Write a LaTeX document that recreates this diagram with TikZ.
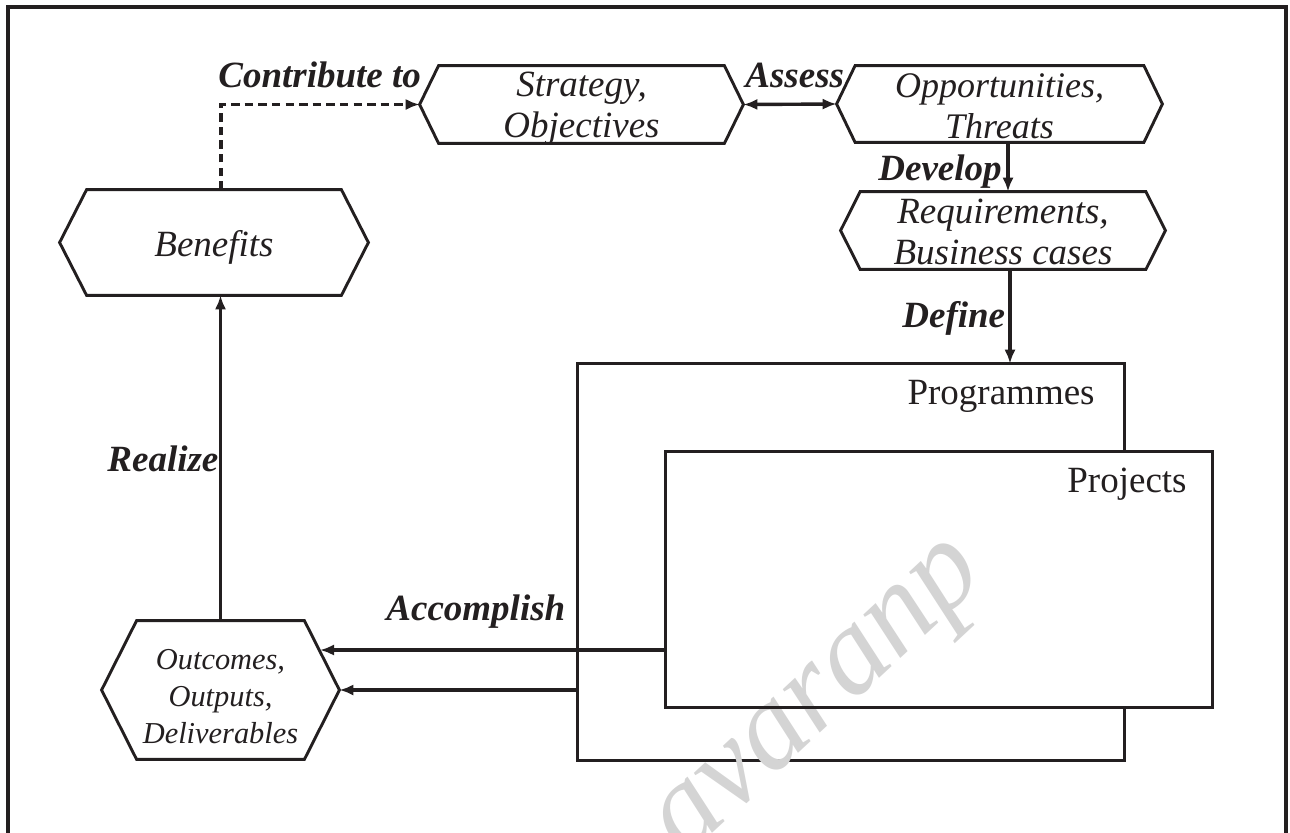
\documentclass[tikz,border=0pt]{standalone}
\usepackage{fontspec}
\setmainfont{Liberation Serif}
\usetikzlibrary{arrows.meta,calc}
\definecolor{ink}{HTML}{231F20}
\definecolor{wmgray}{HTML}{D4D4D4}
\tikzset{
  shapeline/.style={line width=1.45pt, draw=ink, line join=miter},
  hexshape/.style={inner sep=0pt, draw=none},
  hextext/.style={inner sep=0pt, align=center, text=ink, font=\itshape\fontsize{18.5}{20.2}\selectfont},
  lab/.style={inner sep=0pt, text=ink, font=\bfseries\itshape\fontsize{18.5}{20}\selectfont},
  boxlab/.style={inner sep=0pt, text=ink, font=\fontsize{18.5}{20}\selectfont},
  arrowhead/.style={-{Latex[length=7pt,width=5.6pt]}},
  arr/.style={draw=ink, arrowhead, line width=1.7pt},
  dblarr/.style={draw=ink, {Latex[length=7pt,width=5.6pt]}-{Latex[length=7pt,width=5.6pt]}, line width=1.7pt},
  dasharr/.style={draw=ink, dash pattern=on 4.2pt off 2.6pt, arrowhead, line width=1.6pt},
  frame/.style={line width=1.6pt, draw=ink},
}
\newcommand{\hexpath}[2]{%
  \draw[shapeline] (#1.west) -- ([xshift=#2]#1.north west) -- ([xshift=-#2]#1.north east)
    -- (#1.east) -- ([xshift=-#2]#1.south east) -- ([xshift=#2]#1.south west) -- cycle;}
\begin{document}
\begin{tikzpicture}[x=0.5pt,y=-0.5pt]
\useasboundingbox (0,0) rectangle (1290,832);
% outer frame (open at the bottom, cropped)
\draw[frame] (8,840) -- (8,7) -- (1286,7) -- (1286,840);

% programme / project boxes
\node[hexshape, minimum width=273pt, minimum height=198pt] (prog) at (851,562) {};
\draw[shapeline] (prog.north west) rectangle (prog.south east);
\node[hexshape, fill=white, minimum width=273pt, minimum height=127.5pt] (proj) at (939,579.5) {};
% watermark
\node[text=wmgray, rotate=43, inner sep=0pt, font=\itshape\fontsize{62}{62}\selectfont] (wm) at (826,706) {avaranp};
\draw[shapeline] (proj.north west) rectangle (proj.south east);
\node[boxlab, anchor=base east] (tprog) at (1095,404) {Programmes};
\node[boxlab, anchor=base east] (tproj) at (1187,492) {Projects};

% hexagon nodes
\node[hexshape, minimum width=154pt, minimum height=52.5pt] (ben) at (214,242.5) {};
\hexpath{ben}{13.5pt}
\node[hextext, font=\itshape\fontsize{18.5}{20}\selectfont] (bent) at (214,247) {Benefits};
\node[hexshape, minimum width=161.5pt, minimum height=38.5pt] (strat) at (581.5,104.5) {};
\hexpath{strat}{9.5pt}
\node[hextext] (stratt) at (581.5,108.5) {Strategy,\\Objectives};
\node[hexshape, minimum width=162.5pt, minimum height=38pt] (opp) at (999.5,104) {};
\hexpath{opp}{9.25pt}
\node[hextext, font=\itshape\fontsize{18}{20.6}\selectfont] (oppt) at (999.5,106) {Opportunities,\\Threats};
\node[hexshape, minimum width=162pt, minimum height=38.5pt] (req) at (1003,230.5) {};
\hexpath{req}{9.75pt}
\node[hextext] (reqt) at (1003,232) {Requirements,\\Business cases};
\node[hexshape, minimum width=118.5pt, minimum height=69pt] (out) at (220.5,690) {};
\hexpath{out}{17.5pt}
\node[hextext, font=\itshape\fontsize{15.2}{18.5}\selectfont] (outt) at (220.5,697) {Outcomes,\\Outputs,\\Deliverables};

% labels
\node[lab, anchor=base west] (lcontrib) at (218,87) {Contribute to};
\node[lab, anchor=base west] (lassess) at (745,87) {Assess};
\node[lab, anchor=base west] (ldev) at (878,180) {Develop};
\node[lab, anchor=base west] (ldef) at (902,327) {Define};
\node[lab, anchor=base west] (lreal) at (107,471) {Realize};
\node[lab, anchor=base west] (lacc) at (386,620) {Accomplish};

% connectors
\coordinate (dstart) at ([xshift=3.5pt]ben.north);
\draw[dasharr] (dstart) |- (strat.west);
\draw[dblarr] (strat.east) -- (opp.west);
\coordinate (dv) at ([xshift=4.25pt]opp.south);
\draw[arr] (dv) -- (dv |- req.north);
\coordinate (df) at ([xshift=3.5pt]req.south);
\draw[arr] (df) -- (df |- prog.north);
\draw[arr] (out.north) -- (out.north |- ben.south);
\coordinate (a1s) at (proj.west |- 0,650);
\coordinate (a1e) at (320,650);
\draw[arr] (a1s) -- (a1e);
\draw[arr] (prog.west |- out.east) -- (out.east);
\end{tikzpicture}
\end{document}
